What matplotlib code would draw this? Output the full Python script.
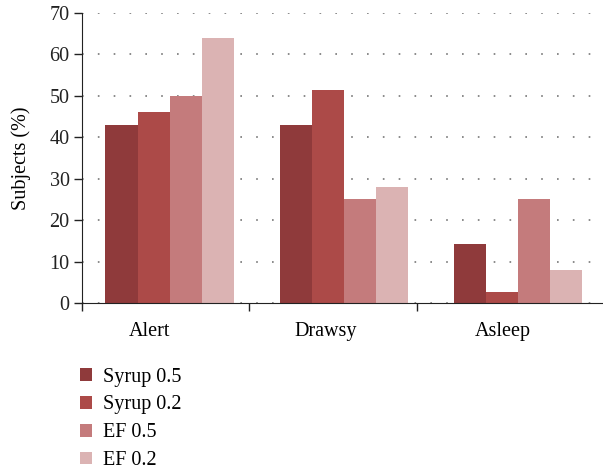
import numpy as np
import matplotlib.pyplot as plt

# --------------------
# Data
# --------------------
categories = ["Alert", "Drawsy", "Asleep"]
series = ["Syrup 0.5", "Syrup 0.2", "EF 0.5", "EF 0.2"]
syrup_05 = [42.9, 42.9, 14.3]
syrup_02 = [46.0, 51.4, 2.6]
ef_05 = [50.0, 25.0, 25.0]
ef_02 = [64.0, 28.0, 8.0]
values = [syrup_05, syrup_02, ef_05, ef_02]
colors = ["#8f3a3b", "#ac4a48", "#c47b7c", "#dbb3b3"]

plt.rcParams["font.family"] = ["Liberation Serif", "DejaVu Serif"]

fig = plt.figure(figsize=(6.03, 4.73), dpi=100)
ax = fig.add_axes([0.136, 0.3594, 0.864, 0.6131])

x = np.arange(len(categories))
width = 0.184
offsets = (np.arange(len(series)) - 1.5) * width

handles = []
for vals, off, c, name in zip(values, offsets, colors, series):
    b = ax.bar(x + off, vals, width, color=c, label=name, zorder=2)
    handles.append(b)

ax.set_xlim(-0.503, 2.491)
ax.set_ylim(0, 70)
ax.set_yticks(np.arange(0, 71, 10))
ax.tick_params(axis="y", labelsize=14.5, length=6, width=1, colors="#222222", pad=3)

# boundary ticks + shifted category labels
ax.set_xticks([-0.503, 0.457, 1.422])
ax.set_xticklabels([])
ax.set_xticks([-0.118, 0.899, 1.916], minor=True)
ax.set_xticklabels(categories, minor=True, fontsize=14.5)
ax.tick_params(axis="x", which="major", length=6, width=1, colors="#222222")
ax.tick_params(axis="x", which="minor", length=0, pad=14)

ax.yaxis.grid(True, linestyle=(0, (1, 8.5)), color="#777777", linewidth=1.2, zorder=0)
ax.set_axisbelow(True)

for s in ["top", "right"]:
    ax.spines[s].set_visible(False)
ax.spines["left"].set_color("#222222")
ax.spines["bottom"].set_color("#222222")
ax.spines["bottom"].set_zorder(3)

ax.set_ylabel("Subjects (%)", fontsize=14.5, labelpad=13)

fig.legend(handles=handles, labels=series, loc="upper left",
           bbox_to_anchor=(0.119, 0.24), frameon=False, fontsize=14.5,
           handlelength=0.6, handleheight=0.6, handletextpad=0.55,
           labelspacing=0.44, borderaxespad=0)

fig.savefig("out.png", dpi=100)
